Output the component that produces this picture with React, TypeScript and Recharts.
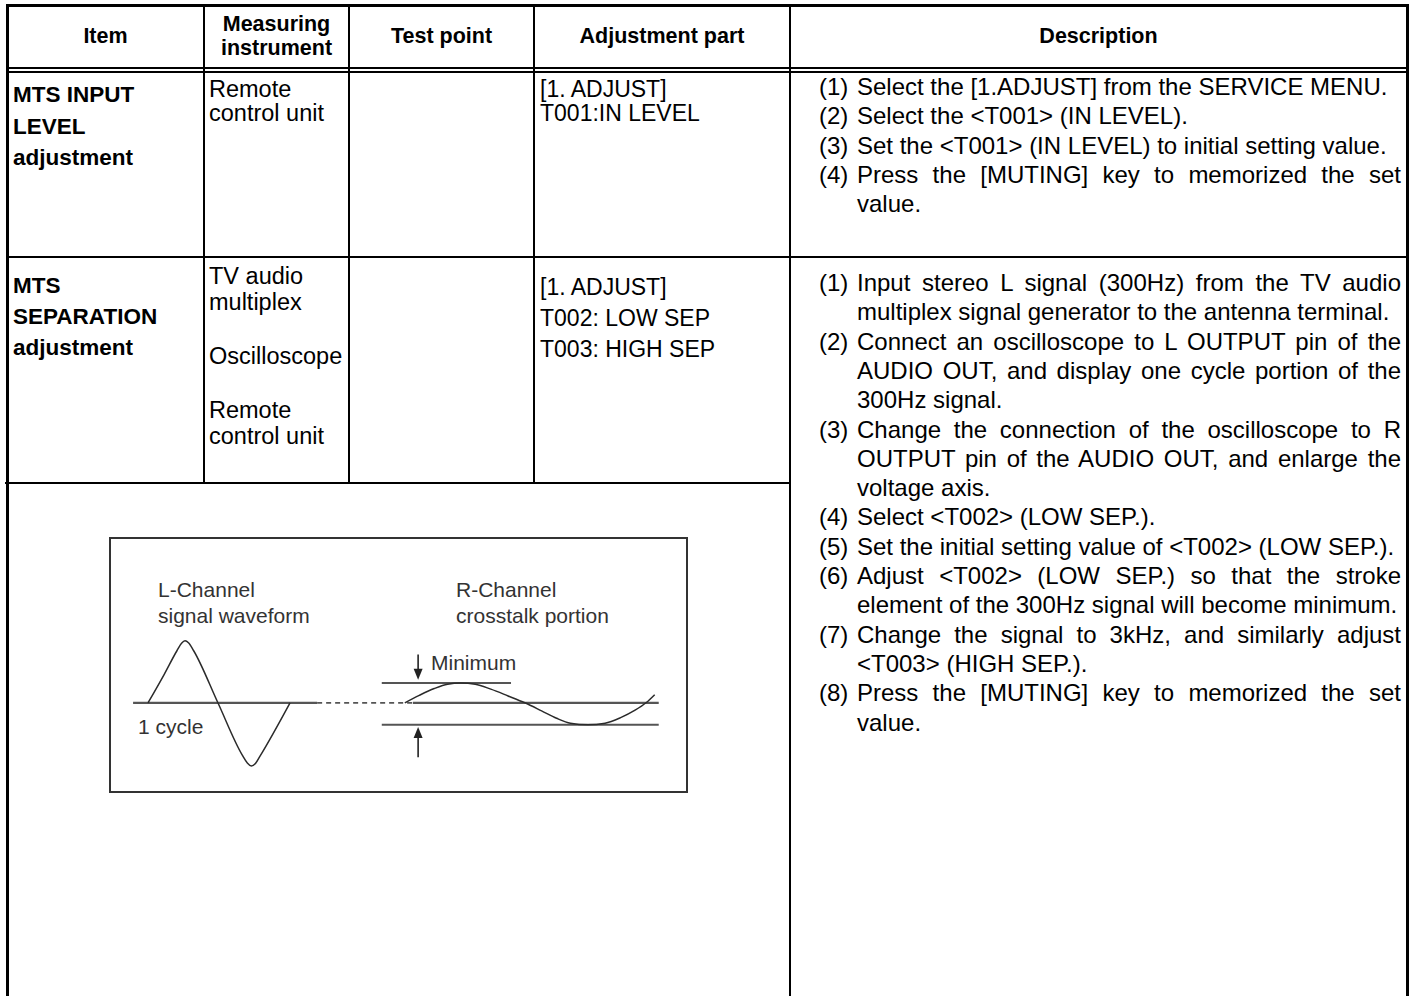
import React from "react";
import { LineChart, Line, XAxis, YAxis, ReferenceLine } from "recharts";

const FONT = '"Liberation Sans", Arial, Helvetica, sans-serif';

// ---- table text ----
const headerCells = [["Item"], ["Measuring", "instrument"], ["Test point"], ["Adjustment part"], ["Description"]];

const levelItem = ["MTS INPUT", "LEVEL", "adjustment"];
const levelInstrument = ["Remote", "control unit"];
const levelPart = ["[1. ADJUST]", "T001:IN LEVEL"];
const levelSteps = [
  { n: "(1)", lines: ["Select the [1.ADJUST] from the SERVICE MENU."] },
  { n: "(2)", lines: ["Select the <T001> (IN LEVEL)."] },
  { n: "(3)", lines: ["Set the <T001> (IN LEVEL) to initial setting value."] },
  { n: "(4)", lines: ["Press the [MUTING] key to memorized the set", "value."] },
];

const sepItem = ["MTS", "SEPARATION", "adjustment"];
const sepInstrument = ["TV audio", "multiplex", "Oscilloscope", "Remote", "control unit"];
const sepPart = ["[1. ADJUST]", "T002: LOW SEP", "T003: HIGH SEP"];
const sepSteps = [
  { n: "(1)", lines: ["Input stereo L signal (300Hz) from the TV audio", "multiplex signal generator to the antenna terminal."] },
  { n: "(2)", lines: ["Connect an oscilloscope to L OUTPUT pin of the", "AUDIO OUT, and display one cycle portion of the", "300Hz signal."] },
  { n: "(3)", lines: ["Change the connection of the oscilloscope to R", "OUTPUT pin of the AUDIO OUT, and enlarge the", "voltage axis."] },
  { n: "(4)", lines: ["Select <T002> (LOW SEP.)."] },
  { n: "(5)", lines: ["Set the initial setting value of <T002> (LOW SEP.)."] },
  { n: "(6)", lines: ["Adjust <T002> (LOW SEP.) so that the stroke", "element of the 300Hz signal will become minimum."] },
  { n: "(7)", lines: ["Change the signal to 3kHz, and similarly adjust", "<T003> (HIGH SEP.)."] },
  { n: "(8)", lines: ["Press the [MUTING] key to memorized the set", "value."] },
];

// ---- waveform diagram (t: time units across the box, v: amplitude, L peak = 1) ----
const lChannel = [
  { t: 6.6, v: 0 }, { t: 9.4, v: 0.46 }, { t: 11.6, v: 0.84 }, { t: 12.4, v: 0.96 },
  { t: 13.0, v: 1.0 }, { t: 13.6, v: 0.97 }, { t: 14.5, v: 0.84 }, { t: 18.7, v: 0 },
  { t: 22.9, v: -0.84 }, { t: 23.8, v: -0.97 }, { t: 24.5, v: -1.02 }, { t: 25.2, v: -0.98 },
  { t: 26.0, v: -0.86 }, { t: 31.2, v: 0 },
];
const rCrosstalk = [
  { t: 51.1, v: 0 }, { t: 53.6, v: 0.12 }, { t: 56.2, v: 0.23 }, { t: 58.5, v: 0.3 },
  { t: 60.8, v: 0.32 }, { t: 63.3, v: 0.3 }, { t: 66.0, v: 0.22 }, { t: 69.0, v: 0.11 },
  { t: 71.9, v: 0 }, { t: 74.8, v: -0.13 }, { t: 77.4, v: -0.25 }, { t: 79.8, v: -0.33 },
  { t: 82.8, v: -0.355 }, { t: 85.8, v: -0.33 }, { t: 88.5, v: -0.24 }, { t: 91.0, v: -0.12 },
  { t: 92.9, v: 0 }, { t: 94.4, v: 0.13 },
];
const baseSolidL = [4.0, 35.9];
const baseDashed = [35.9, 52.5];
const baseSolidR = [52.5, 95.1];
const bandTop = { v: 0.32, from: 47.1, to: 69.5 };
const bandBottom = { v: -0.355, from: 47.1, to: 95.1 };
const arrowT = 53.4;
const arrows = [
  { from: 0.78, to: 0.37 },
  { from: -0.88, to: -0.39 },
];

// ---- layout ----
const COL = [7, 204, 349, 534, 790, 1407];
const TOP = 5;
const HEAD_Y = [68, 72];
const ROW1_Y = 257;
const ROW2_Y = 483;
const H = 996;
const BOX = { x: 110, y: 538, w: 577, h: 254 };

const HRule = ({ y, x1, x2, w = 2 }: any) => (
  <div style={{ position: "absolute", left: x1, top: y - w / 2, width: x2 - x1, height: w, background: "#000" }} />
);
const VRule = ({ x, y1, y2, w = 2 }: any) => (
  <div style={{ position: "absolute", left: x - w / 2, top: y1, width: w, height: y2 - y1, background: "#000" }} />
);

const Txt = ({ x, cy, size = 22, lh = 28, bold = false, center = false, width = 0, color = "#000", children }: any) => (
  <div
    style={{
      position: "absolute",
      left: center ? x - width / 2 : x,
      top: cy - lh / 2,
      width: center ? width : undefined,
      height: lh,
      lineHeight: lh + "px",
      fontSize: size,
      fontWeight: bold ? 700 : 400,
      textAlign: center ? "center" : "left",
      whiteSpace: "nowrap",
      color,
    }}
  >
    {children}
  </div>
);

const Steps = ({ steps, first, pitch }: any) => {
  const rows: any[] = [];
  steps.forEach((s: any) =>
    s.lines.forEach((line: string, j: number) =>
      rows.push({ n: j === 0 ? s.n : "", text: line, last: j === s.lines.length - 1 })
    )
  );
  return (
    <>
      {rows.map((r, i) => (
        <div
          key={i}
          style={{
            position: "absolute",
            left: 819,
            top: first + i * pitch - 14,
            width: 582,
            height: 28,
            lineHeight: "28px",
            fontSize: 24,
            display: "flex",
          }}
        >
          <span style={{ width: 38, flex: "none" }}>{r.n}</span>
          <div style={{ flex: 1, textAlign: "justify", textAlignLast: r.last ? "left" : "justify" } as any}>
            {r.text}
          </div>
        </div>
      ))}
    </>
  );
};

const ArrowShape = (p: any) => {
  const { x1, y1, x2, y2 } = p;
  const dir = y2 > y1 ? 1 : -1;
  return (
    <g>
      <line x1={x1} y1={y1} x2={x2} y2={y2 - dir * 8} stroke="#222" strokeWidth={1.6} />
      <polygon points={`${x2},${y2} ${x2 - 4.5},${y2 - dir * 11} ${x2 + 4.5},${y2 - dir * 11}`} fill="#222" />
    </g>
  );
};

function Diagram() {
  const lineGray = "#555";
  return (
    <div style={{ position: "absolute", left: BOX.x, top: BOX.y, width: BOX.w, height: BOX.h }}>
      <LineChart width={BOX.w} height={BOX.h} margin={{ top: 0, right: 0, bottom: 0, left: 0 }}>
        <XAxis type="number" dataKey="t" domain={[0, 100]} hide allowDataOverflow />
        <YAxis type="number" domain={[-1.44, 2.66]} hide allowDataOverflow />
        <ReferenceLine segment={[{ x: baseSolidL[0], y: 0 }, { x: baseSolidL[1], y: 0 }]} stroke={lineGray} strokeWidth={2.2} />
        <ReferenceLine segment={[{ x: baseDashed[0], y: 0 }, { x: baseDashed[1], y: 0 }]} stroke={lineGray} strokeWidth={1.8} strokeDasharray="5 4" />
        <ReferenceLine segment={[{ x: baseSolidR[0], y: 0 }, { x: baseSolidR[1], y: 0 }]} stroke={lineGray} strokeWidth={2.2} />
        <ReferenceLine segment={[{ x: bandTop.from, y: bandTop.v }, { x: bandTop.to, y: bandTop.v }]} stroke={lineGray} strokeWidth={2} />
        <ReferenceLine segment={[{ x: bandBottom.from, y: bandBottom.v }, { x: bandBottom.to, y: bandBottom.v }]} stroke={lineGray} strokeWidth={2} />
        {arrows.map((a, i) => (
          <ReferenceLine key={i} segment={[{ x: arrowT, y: a.from }, { x: arrowT, y: a.to }]} shape={ArrowShape} />
        ))}
        <Line data={lChannel} dataKey="v" type="monotone" stroke="#2b2b2b" strokeWidth={1.5} dot={false} isAnimationActive={false} />
        <Line data={rCrosstalk} dataKey="v" type="monotone" stroke="#2b2b2b" strokeWidth={1.5} dot={false} isAnimationActive={false} />
      </LineChart>
      <div style={{ position: "absolute", left: -1, top: -1, width: BOX.w + 2, height: BOX.h + 2, border: "2.5px solid #333", boxSizing: "border-box" }} />
    </div>
  );
}

export default function App() {
  const c = (i: number) => (COL[i] + COL[i + 1]) / 2;
  const w = (i: number) => COL[i + 1] - COL[i];
  return (
    <div style={{ position: "absolute", left: 0, top: 0, width: 1421, height: H, background: "#fff", overflow: "hidden", fontFamily: FONT, color: "#000" }}>
      {/* frame */}
      <HRule y={TOP} x1={COL[0] - 1.5} x2={COL[5] + 1.5} w={3} />
      <VRule x={COL[0]} y1={TOP} y2={H} w={3} />
      <VRule x={COL[5]} y1={TOP} y2={H} w={3} />
      <HRule y={HEAD_Y[0]} x1={COL[0]} x2={COL[5]} />
      <HRule y={HEAD_Y[1]} x1={COL[0]} x2={COL[5]} />
      <HRule y={ROW1_Y} x1={COL[0]} x2={COL[5]} />
      <HRule y={ROW2_Y} x1={COL[0] - 2} x2={COL[4]} />
      <VRule x={COL[1]} y1={TOP} y2={ROW2_Y} />
      <VRule x={COL[2]} y1={TOP} y2={ROW2_Y} />
      <VRule x={COL[3]} y1={TOP} y2={ROW2_Y} />
      <VRule x={COL[4]} y1={TOP} y2={H} />

      {/* header */}
      {headerCells.map((cell, i) =>
        cell.map((t, j) => (
          <Txt key={i + "-" + j} x={c(i)} width={w(i)} center bold size={21.5} lh={24}
            cy={cell.length === 1 ? 36 : 24 + j * 24}>
            {t}
          </Txt>
        ))
      )}

      {/* MTS INPUT LEVEL */}
      {levelItem.map((t, j) => (
        <Txt key={"li" + j} x={13} cy={95 + j * 31.5} bold size={22.5}>{t}</Txt>
      ))}
      {levelInstrument.map((t, j) => (
        <Txt key={"lm" + j} x={209} cy={89 + j * 24} size={23.5}>{t}</Txt>
      ))}
      {levelPart.map((t, j) => (
        <Txt key={"lp" + j} x={540} cy={89 + j * 24} size={23}>{t}</Txt>
      ))}
      <Steps steps={levelSteps} first={87} pitch={29.3} />

      {/* MTS SEPARATION */}
      {sepItem.map((t, j) => (
        <Txt key={"si" + j} x={13} cy={286 + j * 31} bold size={22.5}>{t}</Txt>
      ))}
      {sepInstrument.map((t, j) => (
        <Txt key={"sm" + j} x={209} cy={[276, 302, 356, 410, 436][j]} size={23.5}>{t}</Txt>
      ))}
      {sepPart.map((t, j) => (
        <Txt key={"sp" + j} x={540} cy={287 + j * 31} size={23}>{t}</Txt>
      ))}
      <Steps steps={sepSteps} first={283} pitch={29.3} />

      {/* diagram */}
      <Diagram />
      <Txt x={158} cy={590} size={21} color="#333">L-Channel</Txt>
      <Txt x={158} cy={616} size={21} color="#333">signal waveform</Txt>
      <Txt x={456} cy={590} size={21} color="#333">R-Channel</Txt>
      <Txt x={456} cy={616} size={21} color="#333">crosstalk portion</Txt>
      <Txt x={431} cy={663} size={21} color="#333">Minimum</Txt>
      <Txt x={138} cy={727} size={21} color="#333">1 cycle</Txt>
    </div>
  );
}
